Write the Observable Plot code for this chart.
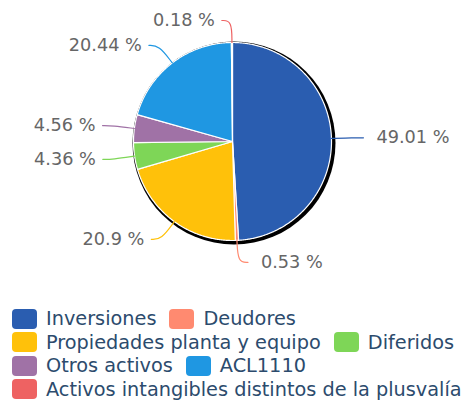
<!DOCTYPE html>
<html><head><meta charset="utf-8">
<script src="https://cdn.jsdelivr.net/npm/d3@7"></script>
<script src="https://cdn.jsdelivr.net/npm/@observablehq/plot@0.6"></script>
<style>
html,body{margin:0;padding:0;background:#fff;}
body{font-family:"DejaVu Sans",sans-serif;width:465px;overflow:hidden;}
#legend{display:flex;flex-wrap:wrap;column-gap:13px;padding:7px 0 0 12px;width:453px;box-sizing:content-box;}
.item{display:flex;align-items:center;height:23.5px;white-space:nowrap;}
.sw{width:25px;height:20px;border-radius:4px;margin-right:9px;flex:none;}
.lb{font-size:19.3px;color:#2c4b6d;line-height:23.5px;}
</style></head><body>
<div id="chart"></div><div id="legend"></div>
<script>
const categories = ["Inversiones","Deudores","Propiedades planta y equipo","Diferidos","Otros activos","ACL1110","Activos intangibles distintos de la plusvalía"];
const values = [49.01, 0.53, 20.9, 4.36, 4.56, 20.44, 0.18];
const labels = ["49.01 %","0.53 %","20.9 %","4.36 %","4.56 %","20.44 %","0.18 %"];
const colors = ["#2a5db0","#ff8a70","#ffc10a","#7ed657","#a072a6","#1f97e2","#ee6262"];

const W = 465, H = 300, CX = 232, CY = 141, R = 99;
const L1 = 22 / R, L2 = 10 / R;

const arcs = d3.pie().sort(null).value(d => d)(values);

const slicePts = [];
const linePts = [];
const textPts = [];
arcs.forEach((a, i) => {
  const cat = categories[i];
  slicePts.push({cat, x: 0, y: 0});
  const n = Math.max(2, Math.ceil((a.endAngle - a.startAngle) / 0.01));
  for (let k = 0; k <= n; k++) {
    const t = a.startAngle + (a.endAngle - a.startAngle) * k / n;
    slicePts.push({cat, x: Math.sin(t), y: -Math.cos(t)});
  }
  const m = (a.startAngle + a.endAngle) / 2;
  const side = Math.sin(m) >= 0 ? 1 : -1;
  const ex = Math.sin(m), ey = -Math.cos(m);
  const px = ex * (1 + L1), py = ey * (1 + L1);
  const qx = px + side * L2, qy = py;
  linePts.push({cat, x: ex, y: ey}, {cat, x: px, y: py}, {cat, x: qx, y: qy});
  textPts.push({cat, x: qx, y: qy, side, label: labels[i]});
});

const chart = Plot.plot({
  width: W, height: H,
  margin: 0,
  x: {domain: [-CX / R, (W - CX) / R], range: [0, W], axis: null},
  y: {domain: [-CY / R, (H - CY) / R], range: [0, H], axis: null},
  color: {domain: categories, range: colors},
  style: {background: "white", overflow: "visible"},
  marks: [
    Plot.dot([0], {x: () => 0, y: () => 0, r: R + 2.5, dx: 1.5, dy: 1.5, fill: "black"}),
    Plot.line(slicePts, {x: "x", y: "y", z: "cat", fill: "cat", stroke: "white", strokeWidth: 1.2, curve: "linear-closed"}),
    Plot.line(linePts, {x: "x", y: "y", z: "cat", stroke: "cat", strokeWidth: 1.2, curve: "basis"}),
    Plot.text(textPts.filter(d => d.side > 0), {x: "x", y: "y", text: "label", dx: 13, textAnchor: "start", fontSize: 17.7, fill: "#666", fontFamily: "DejaVu Sans"}),
    Plot.text(textPts.filter(d => d.side < 0), {x: "x", y: "y", text: "label", dx: -7, textAnchor: "end", fontSize: 17.7, fill: "#666", fontFamily: "DejaVu Sans"})
  ]
});
document.getElementById("chart").appendChild(chart);

const legend = document.getElementById("legend");
categories.forEach((c, i) => {
  const it = document.createElement("div");
  it.className = "item";
  const sw = document.createElement("div");
  sw.className = "sw";
  sw.style.background = colors[i];
  const lb = document.createElement("span");
  lb.className = "lb";
  lb.textContent = c;
  it.appendChild(sw); it.appendChild(lb);
  legend.appendChild(it);
});
</script>
</body></html>
